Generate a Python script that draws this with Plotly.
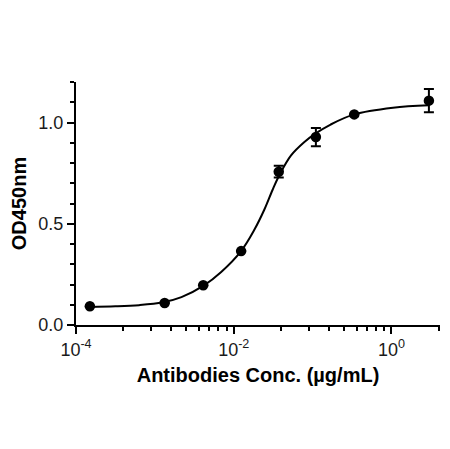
import numpy as np
import plotly.graph_objects as go

# Measured data (mean OD450 and error)
conc = [1.5e-4, 1.33e-3, 4.1e-3, 0.0124, 0.0372, 0.110, 0.337, 2.98]
od = [0.093, 0.109, 0.196, 0.365, 0.757, 0.928, 1.040, 1.108]
err = [0.0, 0.0, 0.0, 0.0, 0.029, 0.045, 0.0, 0.057]

# Fitted curve, values (log10 concentration, OD)
curve_logx = [-3.83, -3.5, -3.2, -2.9, -2.663, -2.377, -2.159, -1.907, -1.739, -1.613,
              -1.507, -1.424, -1.276, -1.108, -0.961, -0.772, -0.473, 0.019, 0.474]
curve_y = [0.089, 0.092, 0.098, 0.112, 0.138, 0.196, 0.262, 0.365, 0.470, 0.569,
           0.668, 0.738, 0.836, 0.902, 0.946, 0.990, 1.040, 1.073, 1.085]

x_tick_vals = [1e-4, 1e-2, 1e0]
x_tick_text = ["10<sup>-4</sup>", "10<sup>-2</sup>", "10<sup>0</sup>"]
y_tick_vals = [0.0, 0.5, 1.0]
y_tick_text = ["0.0", "0.5", "1.0"]

# Prism-style minor ticks: k^2 steps within each two-decade span
minor_x = []
for base in [1e-4, 1e-2, 1e0]:
    for k in range(2, 10):
        v = base * k * k
        if v < 10 ** 0.62:
            minor_x.append(v)

fig = go.Figure()
fig.add_trace(go.Scatter(
    x=[10 ** v for v in curve_logx], y=curve_y, mode="lines",
    line=dict(color="black", width=2, shape="spline", smoothing=1.0),
    hoverinfo="skip", showlegend=False))
fig.add_trace(go.Scatter(
    x=conc, y=od, mode="markers",
    marker=dict(color="black", size=10.5),
    error_y=dict(type="data", array=err, visible=True, color="black",
                 thickness=2, width=5),
    showlegend=False))

axis_font = dict(family="Liberation Sans, Arial, sans-serif", size=18, color="#1a1a1a")
title_font = dict(family="Liberation Sans, Arial, sans-serif", size=20, color="black")

# the page body adds ~8px offset, so the figure is slightly smaller than the window
fig.update_layout(
    width=442, height=441,
    margin=dict(l=66, r=10, t=74, b=124),
    paper_bgcolor="white", plot_bgcolor="white",
    xaxis=dict(
        type="log", range=[-4, 0.615],
        tickmode="array", tickvals=x_tick_vals, ticktext=x_tick_text,
        showline=True, linecolor="black", linewidth=2,
        ticks="outside", ticklen=7, tickwidth=2, tickcolor="black",
        minor=dict(tickmode="array", tickvals=minor_x, ticks="outside",
                   ticklen=4, tickwidth=2, tickcolor="black", showgrid=False),
        showgrid=False, zeroline=False, tickfont=axis_font,
        title=dict(text="<b>Antibodies Conc. (µg/mL)</b>", font=title_font, standoff=9),
    ),
    yaxis=dict(
        range=[0, 1.2],
        tickmode="array", tickvals=y_tick_vals, ticktext=y_tick_text,
        showline=True, linecolor="black", linewidth=2,
        ticks="outside", ticklen=7, tickwidth=2, tickcolor="black",
        minor=dict(dtick=0.1, tick0=0, ticks="outside", ticklen=4, tickwidth=2,
                   tickcolor="black", showgrid=False),
        showgrid=False, zeroline=False, tickfont=axis_font,
        title=dict(text="<b>OD450nm</b>", font=title_font, standoff=6),
    ),
)

fig.write_html("out.html")
